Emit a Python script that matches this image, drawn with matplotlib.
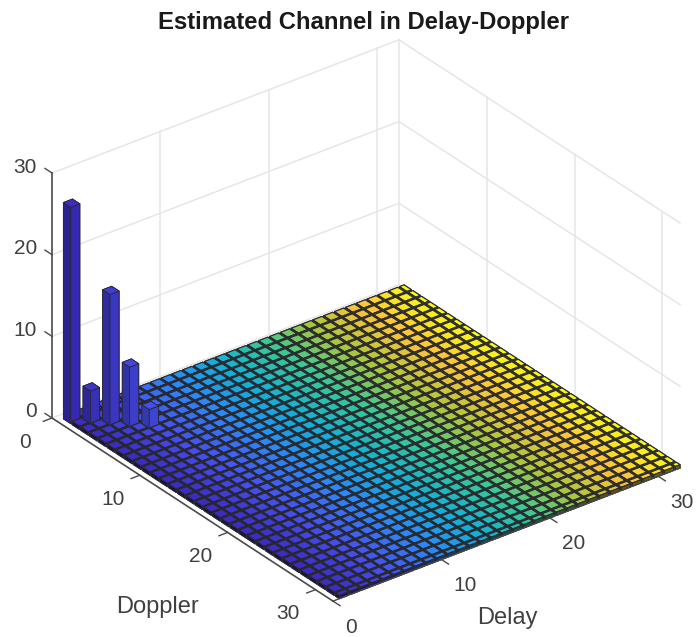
# Estimated channel bar chart, MATLAB bar3 look
import numpy as np
import matplotlib
matplotlib.use('Agg')
import matplotlib.pyplot as plt
from matplotlib.colors import LinearSegmentedColormap
from mpl_toolkits.mplot3d import proj3d

plt.rcParams['font.family'] = ['Liberation Sans', 'DejaVu Sans']

# Data
n_bins = 32
peak_index = [1, 2, 3, 4, 5]
peak_values = [26.5, 4.2, 16.2, 7.5, 2.5]
floor_value = 0.4
delay_ticks = [0, 10, 20, 30]
doppler_ticks = [0, 10, 20, 30]
z_ticks = [0, 10, 20, 30]

# parula colormap stops
parula_colors = ['#3c2cc4', '#4650f0', '#2d87f7', '#12b1d6', '#37c897',
                 '#abc739', '#fec338', '#f9fb15']
parula = LinearSegmentedColormap.from_list('parula', parula_colors)

heights = np.full((n_bins, n_bins), floor_value)
for k, v in zip(peak_index, peak_values):
    heights[k - 1, k - 1] = v

fig = plt.figure(figsize=(6.97, 6.37), dpi=100)
ax = fig.add_axes([-0.2, -0.2, 1.4, 1.4], projection='3d')
ax.set_proj_type('ortho')
ax.view_init(elev=30, azim=-127.5)
ax.computed_zorder = False
ax.set_axis_off()

grid_col = '#e6e6e6'
axis_col = '#4a4a4a'
text_col = '#404040'
lim = n_bins
ztop = 30

# Walls
for z in z_ticks:
    ax.plot([0, lim], [0, 0], [z, z], color=grid_col, lw=1.1, zorder=1)
    ax.plot([lim, lim], [0, lim], [z, z], color=grid_col, lw=1.1, zorder=1)
for d in delay_ticks[1:]:
    ax.plot([d, d], [0, 0], [0, ztop], color=grid_col, lw=1.1, zorder=1)
for d in doppler_ticks:
    ax.plot([lim, lim], [d, d], [0, ztop], color=grid_col, lw=1.1, zorder=1)

# Bars, back to front
half = 0.42
order = 2
for i in range(n_bins - 1, -1, -1):      # delay
    col = np.array(parula(i / (n_bins - 1)))
    for j in range(n_bins):              # doppler
        x0 = i + 1 - half
        y0 = j + 1 - half
        dx = min(2 * half, lim - x0)
        dy = min(2 * half, lim - y0)
        tall = heights[i, j] > 1
        f1, f2 = (0.74, 0.9) if tall else (0.35, 0.42)
        left = col * [f1, f1, f1, 1]
        right = col * [f2, f2, f2, 1]
        # faces: -Z +Z -Y +Y -X +X
        ax.bar3d(x0, y0, 0, dx, dy, heights[i, j],
                 color=[left, col, right, right, left, right],
                 shade=False, edgecolor='#2a2a30',
                 linewidth=0.6 if tall else 0.8, zorder=order)
        order += 1

# Axis lines and ticks in front
za = order + 1
ax.plot([0, 0], [0, 0], [0, ztop], color=axis_col, lw=1.2, zorder=za)
ax.plot([0, 0], [0, lim], [0, 0], color=axis_col, lw=1.2, zorder=za)
ax.plot([0, lim], [lim, lim], [0, 0], color=axis_col, lw=1.0, zorder=za)
for z in z_ticks:
    ax.plot([0, 0], [0, -0.8], [z, z], color=axis_col, lw=1.0, zorder=za)
for d in doppler_ticks:
    ax.plot([0, -0.8], [d, d], [0, 0], color=axis_col, lw=1.0, zorder=za)
for d in delay_ticks:
    ax.plot([d, d], [lim, lim + 0.8], [0, 0], color=axis_col, lw=1.0, zorder=za)

ax.set_xlim(0, lim)
ax.set_ylim(lim, 0)
ax.set_zlim(0, ztop)

# Fit the box to the reference
aspect = (437.4, 461.6, 282.9)
ax.set_box_aspect(aspect)
W, H = 697, 637


def to_px(x, y, z):
    ax.apply_aspect()
    X, Y, _ = proj3d.proj_transform(x, y, z, ax.get_proj())
    return ax.transData.transform((X, Y))


p_left = to_px(0, 0, 0)
p_right = to_px(lim, lim, 0)
scale = 628.0 / (p_right[0] - p_left[0])
ax.set_box_aspect(aspect, zoom=scale)
p_left = to_px(0, 0, 0)
shift_x = (52 - p_left[0]) / W
shift_y = ((H - 418) - p_left[1]) / H
pos = ax.get_position(original=True)
ax.set_position([pos.x0 + shift_x, pos.y0 + shift_y, pos.width, pos.height])


def tick_label(x, y, z, dx, dy, s, ha='center'):
    # label placed by a pixel offset from its tick on the axis
    px, py = to_px(x, y, z)
    fig.text((px + dx) / W, (py - dy) / H, str(s), color=text_col, fontsize=15,
             ha=ha, va='center')


for z in z_ticks:
    tick_label(0, 0, z, -15, -6, z, ha='right')
for d in doppler_ticks:
    tick_label(0, d, 0, -27, 24, d)
for d in delay_ticks:
    tick_label(d, lim, 0, 12, 26, d, ha='left')

fig.text(364 / W, 1 - 23 / H, 'Estimated Channel in Delay-Doppler', color='#1a1a1a',
         fontsize=17.2, fontweight='bold', ha='center', va='center')
fig.text(158 / W, 1 - 607 / H, 'Doppler', color=text_col, fontsize=17,
         ha='center', va='center')
fig.text(507 / W, 1 - 618 / H, 'Delay', color=text_col, fontsize=17,
         ha='center', va='center')

fig.savefig('out.png', dpi=100)
